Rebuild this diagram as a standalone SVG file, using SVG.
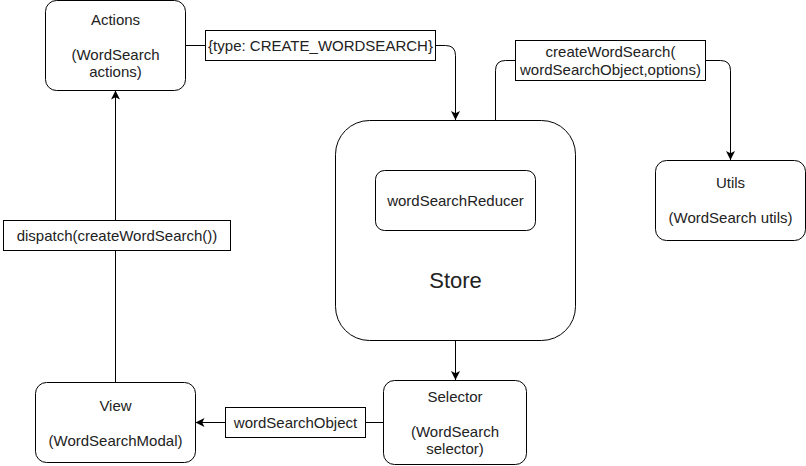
<svg xmlns="http://www.w3.org/2000/svg" width="806" height="466" viewBox="0 0 806 466">
<style>
.box{fill:#fff;stroke:#000;stroke-width:1}
.lbl{fill:#fff;stroke:#000;stroke-width:1}
.edge{fill:none;stroke:#000;stroke-width:1}
text{font-family:"Liberation Sans",Arial,sans-serif;font-size:15px;fill:#222;text-anchor:middle}
.big{font-size:22px}
</style>
<defs>
<marker id="arr" viewBox="0 0 10 10" refX="10" refY="5" markerWidth="9" markerHeight="9" markerUnits="userSpaceOnUse" orient="auto">
<path d="M0,0 L10,5 L0,10 L2.5,5 z" fill="#000"/>
</marker>
</defs>
<rect width="806" height="466" fill="#fff"/>
<g id="connectors">
<path class="edge" d="M185.5,45.5 H445.5 Q455.5,45.5 455.5,55.5 V120" marker-end="url(#arr)"/>
<path class="edge" d="M495.5,170 V70.5 Q495.5,60.5 505.5,60.5 H720.5 Q730.5,60.5 730.5,70.5 V160" marker-end="url(#arr)"/>
<path class="edge" d="M455.5,340.5 V380" marker-end="url(#arr)"/>
<path class="edge" d="M383.5,422.5 H195.5" marker-end="url(#arr)"/>
<path class="edge" d="M115.5,382.5 V90.5" marker-end="url(#arr)"/>
<rect class="lbl" x="205.5" y="30.5" width="230" height="30"/>
<text x="320.5" y="51">{type: CREATE_WORDSEARCH}</text>
<rect class="lbl" x="515.5" y="40.5" width="190" height="40"/>
<text x="610.5" y="57">createWordSearch(</text>
<text x="610.5" y="74.5">wordSearchObject,options)</text>
<rect class="lbl" x="225.5" y="407.5" width="140" height="30"/>
<text x="295.5" y="428">wordSearchObject</text>
<rect class="lbl" x="3.5" y="220.5" width="227" height="30"/>
<text x="117" y="240.5">dispatch(createWordSearch())</text>
</g>
<g id="actions">
<rect class="box" x="45.5" y="0.5" width="140" height="90" rx="11"/>
<text x="115.5" y="24.5">Actions</text>
<text x="115.5" y="59.5">(WordSearch</text>
<text x="115.5" y="77">actions)</text>
</g>
<g id="store">
<rect class="box" x="335.5" y="120.5" width="240" height="220" rx="34"/>
<text class="big" x="455.5" y="288">Store</text>
</g>
<g id="reducer">
<rect class="box" x="375.5" y="170.5" width="160" height="60" rx="9"/>
<text x="455.5" y="205.5">wordSearchReducer</text>
</g>
<g id="utils">
<rect class="box" x="655.5" y="160.5" width="150" height="80" rx="11"/>
<text x="730.5" y="188">Utils</text>
<text x="730.5" y="223">(WordSearch utils)</text>
</g>
<g id="selector">
<rect class="box" x="383.5" y="380.5" width="143" height="84" rx="11"/>
<text x="455" y="401.5">Selector</text>
<text x="455" y="436.5">(WordSearch</text>
<text x="455" y="454">selector)</text>
</g>
<g id="view">
<rect class="box" x="35.5" y="382.5" width="160" height="80" rx="11"/>
<text x="115.5" y="410.5">View</text>
<text x="115.5" y="445.5">(WordSearchModal)</text>
</g>
</svg>
